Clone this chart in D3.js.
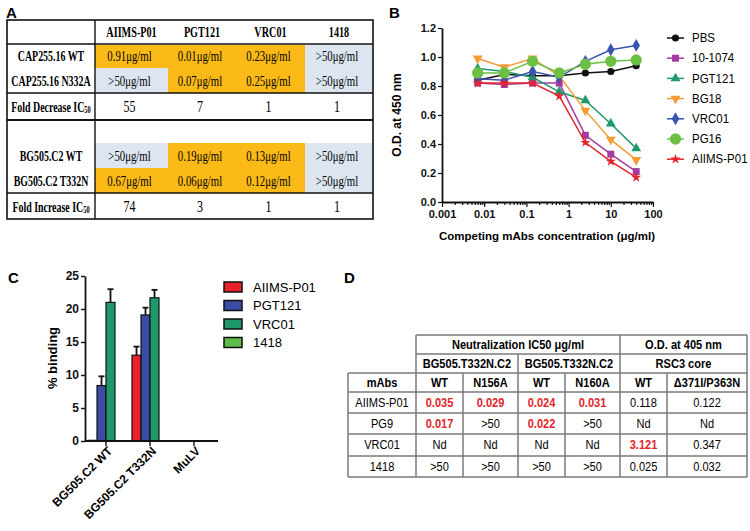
<!DOCTYPE html>
<html><head><meta charset="utf-8">
<script src="https://cdn.jsdelivr.net/npm/d3@7"></script>
<style>body{margin:0;background:#fff}svg{display:block}</style>
</head><body><svg id="fig" width="750" height="531"></svg>
<script>
// ---------------- DATA ----------------
// Panel A
const colsA = ["AIIMS-P01","PGT121","VRC01","1418"];
const capStrains = ["CAP255.16 WT","CAP255.16 N332A"];
const capIC50 = [["0.91μg/ml","0.01μg/ml","0.23μg/ml",">50μg/ml"],
                 [">50μg/ml","0.07μg/ml","0.25μg/ml",">50μg/ml"]];
const capFold = ["55","7","1","1"];
const bgStrains = ["BG505.C2 WT","BG505.C2 T332N"];
const bgIC50 = [[">50μg/ml","0.19μg/ml","0.13μg/ml",">50μg/ml"],
                ["0.67μg/ml","0.06μg/ml","0.12μg/ml",">50μg/ml"]];
const bgFold = ["74","3","1","1"];

// Panel B
const concB = [0.007, 0.03, 0.14, 0.6, 2.5, 10, 40];
const seriesB = ["PBS","10-1074","PGT121","BG18","VRC01","PG16","AIIMS-P01"];
const odPBS    = [0.84, 0.88, 0.87, 0.87, 0.89, 0.90, 0.94];
const od101074 = [0.82, 0.81, 0.82, 0.82, 0.46, 0.33, 0.21];
const odPGT121 = [0.92, 0.90, 0.86, 0.76, 0.70, 0.54, 0.37];
const odBG18   = [0.99, 0.93, 0.99, 0.87, 0.63, 0.43, 0.29];
const odVRC01  = [0.85, 0.84, 0.90, 0.86, 0.97, 1.05, 1.08];
const odPG16   = [0.89, 0.89, 0.97, 0.89, 0.95, 0.97, 0.98];
const odAIIMS  = [0.82, 0.82, 0.82, 0.73, 0.41, 0.28, 0.17];
const yTicksB = [0, 0.2, 0.4, 0.6, 0.8, 1.0, 1.2];
const xTicksB = [0.001, 0.01, 0.1, 1, 10, 100];

// Panel C
const groupsC = ["BG505.C2 WT","BG505.C2 T332N","MuLV"];
const mabsC = ["AIIMS-P01","PGT121","VRC01","1418"];
const bindAIIMS  = [0.1, 13.0, 0];
const errAIIMS   = [0, 1.3, 0];
const bindPGT121 = [8.4, 19.1, 0];
const errPGT121  = [1.4, 1.1, 0];
const bindVRC01  = [21.0, 21.7, 0];
const errVRC01   = [2.0, 1.2, 0];
const bind1418   = [0, 0, 0];
const err1418    = [0, 0, 0];
const yTicksC = [0, 5, 10, 15, 20, 25];

// Panel D
const dHeader1 = ["Neutralization IC50 μg/ml","O.D. at 405 nm"];
const dHeader2 = ["BG505.T332N.C2","BG505.T332N.C2","RSC3 core"];
const dCols = ["mAbs","WT","N156A","WT","N160A","WT","Δ371I/P363N"];
const dMabs = ["AIIMS-P01","PG9","VRC01","1418"];
const dValues = [["0.035","0.029","0.024","0.031","0.118","0.122"],
                 ["0.017",">50","0.022",">50","Nd","Nd"],
                 ["Nd","Nd","Nd","Nd","3.121","0.347"],
                 [">50",">50",">50",">50","0.025","0.032"]];
const dHighlight = [[1,1,1,1,0,0],[1,0,1,0,0,0],[0,0,0,0,1,0],[0,0,0,0,0,0]];

// ---------------- HELPERS ----------------
const svg = d3.select("#fig");
svg.append("rect").attr("width",750).attr("height",531).attr("fill","#fff");
const SANS = "'Liberation Sans', Arial, sans-serif";
const SERIF = "'Liberation Serif', 'Times New Roman', serif";

function label(g, x, y, s, o = {}) {
  const t = g.append("text")
    .attr("transform", `translate(${x},${y}) scale(${o.sx || 1},1)` + (o.rot ? ` rotate(${o.rot})` : ""))
    .attr("text-anchor", o.anchor || "middle")
    .attr("dominant-baseline", "central")
    .style("font-family", o.family || SANS)
    .style("font-size", (o.size || 12) + "px")
    .style("font-weight", o.weight || "normal")
    .attr("fill", o.fill || "#000");
  t.text(s);
  return t;
}

// panel letters
[["A",6,12],["B",389,12],["C",8,277],["D",344,277]].forEach(([l,x,y]) =>
  label(svg, x, y, l, {anchor:"start", size:15, weight:"bold"}));

// ---------------- PANEL A ----------------
(function(){
  const g = svg.append("g");
  const colX = d3.scaleOrdinal().domain(colsA).range([95,168,236,305]);
  const colW = d3.scaleOrdinal().domain(colsA).range([73,68,69,68]);
  const yellow = "#FBBA18", blue = "#DCE5F0";
  const rowsY = [[45,68],[68,93]];
  const rowsY2 = [[143,168],[168,193]];
  function fillRows(vals, rows) {
    vals.forEach((r,i) => r.forEach((v,j) => {
      g.append("rect").attr("x", colX(colsA[j])).attr("y", rows[i][0])
        .attr("width", colW(colsA[j])).attr("height", rows[i][1]-rows[i][0])
        .attr("fill", v.startsWith(">") ? blue : yellow);
    }));
  }
  fillRows(capIC50, rowsY);
  fillRows(bgIC50, rowsY2);
  // borders
  g.append("rect").attr("x",7).attr("y",20).attr("width",366).attr("height",199)
    .attr("fill","none").attr("stroke","#111").attr("stroke-width",1.6);
  [44,93,193].forEach(y => g.append("line").attr("x1",7).attr("x2",373).attr("y1",y).attr("y2",y)
    .attr("stroke","#111").attr("stroke-width",1.4));
  g.append("line").attr("x1",7).attr("x2",373).attr("y1",120).attr("y2",120)
    .attr("stroke","#111").attr("stroke-width",2.2);
  g.append("line").attr("x1",95).attr("x2",95).attr("y1",20).attr("y2",219)
    .attr("stroke","#111").attr("stroke-width",1.4);
  // headers
  colsA.forEach(c => label(g, colX(c)+colW(c)/2, 32, c, {family:SERIF, size:15, weight:"bold", sx:0.68}));
  // row labels
  const rowLab = (y, s) => label(g, 51, y, s, {family:SERIF, size:15.5, weight:"bold", sx:0.64});
  rowLab(56, capStrains[0]); rowLab(80.5, capStrains[1]);
  rowLab(155.5, bgStrains[0]); rowLab(180.5, bgStrains[1]);
  function foldLabel(y, word) {
    const t = g.append("text").attr("transform", `translate(51,${y}) scale(0.64,1)`)
      .attr("text-anchor","middle").attr("dominant-baseline","central")
      .style("font-family",SERIF).style("font-size","15.5px").style("font-weight","bold");
    t.append("tspan").text(word + " IC");
    t.append("tspan").attr("dy",3).style("font-size","10px").text("50");
  }
  foldLabel(106.5, "Fold Decrease");
  foldLabel(206, "Fold Increase");
  // values
  function vals(arr, ys) {
    arr.forEach((r,i) => r.forEach((v,j) => label(g, colX(colsA[j])+colW(colsA[j])/2 - 2, ys[i], v,
      {family:SERIF, size:15, sx:0.72})));
  }
  vals(capIC50, [56,80.5]);
  vals(bgIC50, [155.5,180.5]);
  capFold.forEach((v,j) => label(g, colX(colsA[j])+colW(colsA[j])/2 - 2, 106.5, v, {family:SERIF, size:16, sx:0.75}));
  bgFold.forEach((v,j) => label(g, colX(colsA[j])+colW(colsA[j])/2 - 2, 206, v, {family:SERIF, size:16, sx:0.75}));
})();

// ---------------- PANEL B ----------------
(function(){
  const g = svg.append("g");
  const x = d3.scaleLog().domain([0.001,100]).range([442,653]);
  const y = d3.scaleLinear().domain([0,1.2]).range([202,28]);
  const colors = {"PBS":"#111111","10-1074":"#A43A9E","PGT121":"#1E9A6C","BG18":"#F59B34",
                  "VRC01":"#3853B0","PG16":"#6CC043","AIIMS-P01":"#E6242B"};
  const vals = {"PBS":odPBS,"10-1074":od101074,"PGT121":odPGT121,"BG18":odBG18,
                "VRC01":odVRC01,"PG16":odPG16,"AIIMS-P01":odAIIMS};
  const sym = {"PBS":[d3.symbolCircle,40,0],"10-1074":[d3.symbolSquare,48,0],
               "PGT121":[d3.symbolTriangle,42,0],"BG18":[d3.symbolTriangle,42,180],
               "VRC01":[d3.symbolDiamond,48,0],"PG16":[d3.symbolCircle,100,0],
               "AIIMS-P01":[d3.symbolStar,32,0]};
  // axes
  const ya = g.append("g").attr("transform","translate(442,0)")
    .call(d3.axisLeft(y).tickValues(yTicksB).tickFormat(d3.format(".1f")).tickSize(4).tickPadding(2).tickSizeOuter(0));
  const minor = [];
  for (let e = -3; e < 2; e++) for (let m = 1; m <= 9; m++) minor.push(m * Math.pow(10, e));
  minor.push(100);
  const isMajor = d => xTicksB.some(t => Math.abs(t - d) / t < 1e-6);
  const xa = g.append("g").attr("transform","translate(0,202)")
    .call(d3.axisBottom(x).tickValues(minor)
      .tickFormat(d => isMajor(d) ? String(+d.toPrecision(3)) : "")
      .tickSize(3).tickPadding(5).tickSizeOuter(0));
  xa.selectAll(".tick line").attr("y2", d => isMajor(d) ? 5 : 3);
  [ya, xa].forEach(a => {
    a.select(".domain").attr("stroke","#111").attr("stroke-width",1.8);
    a.selectAll(".tick line").attr("stroke","#111").attr("stroke-width",1.2);
    a.selectAll("text").style("font-family",SANS).style("font-size","11px").style("font-weight","bold").attr("fill","#111");
  });
  // lines
  const line = d3.line().x((d,i) => x(concB[i])).y(d => y(d));
  seriesB.forEach(s => {
    g.append("path").datum(vals[s]).attr("d", line).attr("fill","none")
      .attr("stroke", colors[s]).attr("stroke-width",1.5);
    const [t, sz, rot] = sym[s];
    g.selectAll(null).data(vals[s]).enter().append("path")
      .attr("d", d3.symbol().type(t).size(sz))
      .attr("transform", (d,i) => `translate(${x(concB[i])},${y(d)}) rotate(${rot})`)
      .attr("fill", colors[s]);
  });
  // titles
  label(g, 397, 115, "O.D. at 450 nm", {size:12, weight:"bold", rot:-90});
  label(g, 547, 236, "Competing mAbs concentration (μg/ml)", {size:11.5, weight:"bold"});
  // legend
  seriesB.forEach((s,i) => {
    const ly = 38 + i * 20.2;
    g.append("line").attr("x1",667).attr("x2",684).attr("y1",ly).attr("y2",ly)
      .attr("stroke",colors[s]).attr("stroke-width",1.5);
    const [t, sz, rot] = sym[s];
    g.append("path").attr("d", d3.symbol().type(t).size(sz))
      .attr("transform", `translate(675.5,${ly}) rotate(${rot})`).attr("fill", colors[s]);
    label(g, 692, ly, s, {anchor:"start", size:12.5, sx:0.92});
  });
})();

// ---------------- PANEL C ----------------
(function(){
  const g = svg.append("g");
  const x0 = d3.scaleBand().domain(groupsC).range([84,216]);
  const x1 = d3.scaleBand().domain(mabsC).range([0, 36]);
  const y = d3.scaleLinear().domain([0,25]).range([441,276]);
  const colors = {"AIIMS-P01":"#E8212B","PGT121":"#3B4CA5","VRC01":"#1E9A6A","1418":"#5DBB47"};
  const vals = {"AIIMS-P01":bindAIIMS,"PGT121":bindPGT121,"VRC01":bindVRC01,"1418":bind1418};
  const errs = {"AIIMS-P01":errAIIMS,"PGT121":errPGT121,"VRC01":errVRC01,"1418":err1418};
  mabsC.forEach(m => {
    groupsC.forEach((grp, i) => {
      const v = vals[m][i], e = errs[m][i];
      const bx = x0(grp) + x0.bandwidth()/2 - 18 + x1(m);
      const cx = bx + x1.bandwidth()/2;
      if (e > 0) {
        g.append("line").attr("x1",cx).attr("x2",cx).attr("y1",y(v)).attr("y2",y(v+e))
          .attr("stroke","#111").attr("stroke-width",1.8);
        g.append("line").attr("x1",cx-3).attr("x2",cx+3).attr("y1",y(v+e)).attr("y2",y(v+e))
          .attr("stroke","#111").attr("stroke-width",1.8);
      }
      if (v > 0) {
        g.append("rect").attr("x", bx).attr("y", y(v)).attr("width", x1.bandwidth())
          .attr("height", y(0) - y(v)).attr("fill", colors[m]).attr("stroke","#111").attr("stroke-width",1.2);
      }
    });
  });
  const ya = g.append("g").attr("transform","translate(85,0)")
    .call(d3.axisLeft(y).tickValues(yTicksC).tickSize(4).tickPadding(2).tickSizeOuter(0));
  const xa = g.append("g").attr("transform","translate(0,441)")
    .call(d3.axisBottom(x0).tickSize(5).tickSizeOuter(0).tickFormat(""));
  xa.select(".domain").attr("d","M85,0H218");
  [ya, xa].forEach(a => {
    a.select(".domain").attr("stroke","#111").attr("stroke-width",1.8);
    a.selectAll(".tick line").attr("stroke","#111").attr("stroke-width",1.4);
    a.selectAll("text").style("font-family",SANS).style("font-size","12px").style("font-weight","bold").attr("fill","#111");
  });
  groupsC.forEach(grp => {
    const cx = x0(grp) + x0.bandwidth()/2;
    g.append("text").attr("transform", `translate(${cx+4},${449}) rotate(-45)`)
      .attr("text-anchor","end").attr("dominant-baseline","central")
      .style("font-family",SANS).style("font-size","12px").style("font-weight","bold").text(grp);
  });
  label(g, 52, 358, "% binding", {size:13, weight:"bold", rot:-90});
  // legend
  mabsC.forEach((m,i) => {
    const ly = 287 + i * 18.5;
    g.append("rect").attr("x",224).attr("y",ly-5).attr("width",18).attr("height",10)
      .attr("fill",colors[m]).attr("stroke","#111").attr("stroke-width",1.5);
    label(g, 253, ly, m, {anchor:"start", size:13});
  });
})();

// ---------------- PANEL D ----------------
(function(){
  const g = svg.append("g");
  const cx = [348,416,463,518,565,620,667,747];
  const ry = [335,354,373,392,413,434,456,477];
  const st = "#7a7a7a", sw = 1.5;
  const ln = (x1,y1,x2,y2) => g.append("line").attr("x1",x1).attr("y1",y1).attr("x2",x2).attr("y2",y2)
    .attr("stroke",st).attr("stroke-width",sw);
  // horizontal lines
  ln(cx[1],ry[0],cx[7],ry[0]);
  ln(cx[1],ry[1],cx[7],ry[1]);
  for (let i = 2; i < ry.length; i++) ln(cx[0],ry[i],cx[7],ry[i]);
  // vertical lines
  ln(cx[0],ry[2],cx[0],ry[7]);
  ln(cx[1],ry[0],cx[1],ry[7]);
  ln(cx[5],ry[0],cx[5],ry[7]);
  ln(cx[7],ry[0],cx[7],ry[7]);
  ln(cx[3],ry[1],cx[3],ry[7]);
  [2,4,6].forEach(k => ln(cx[k],ry[2],cx[k],ry[7]));
  const o = {size:13.5, sx:0.82};
  const mid = (a,b) => (a+b)/2;
  label(g, mid(cx[1],cx[5]), mid(ry[0],ry[1]), dHeader1[0], {...o, weight:"bold"});
  label(g, mid(cx[5],cx[7]), mid(ry[0],ry[1]), dHeader1[1], {...o, weight:"bold"});
  label(g, mid(cx[1],cx[3]), mid(ry[1],ry[2]), dHeader2[0], {...o, weight:"bold"});
  label(g, mid(cx[3],cx[5]), mid(ry[1],ry[2]), dHeader2[1], {...o, weight:"bold"});
  label(g, mid(cx[5],cx[7]), mid(ry[1],ry[2]), dHeader2[2], {...o, weight:"bold"});
  dCols.forEach((c,j) => label(g, mid(cx[j],cx[j+1]), mid(ry[2],ry[3]), c, {...o, weight:"bold"}));
  dMabs.forEach((m,i) => {
    const yy = mid(ry[3+i], ry[4+i]);
    label(g, mid(cx[0],cx[1]), yy, m, o);
    dValues[i].forEach((v,j) => label(g, mid(cx[j+1],cx[j+2]), yy, v,
      dHighlight[i][j] ? {...o, weight:"bold", fill:"#E3242B"} : o));
  });
})();
</script>
</body></html>
